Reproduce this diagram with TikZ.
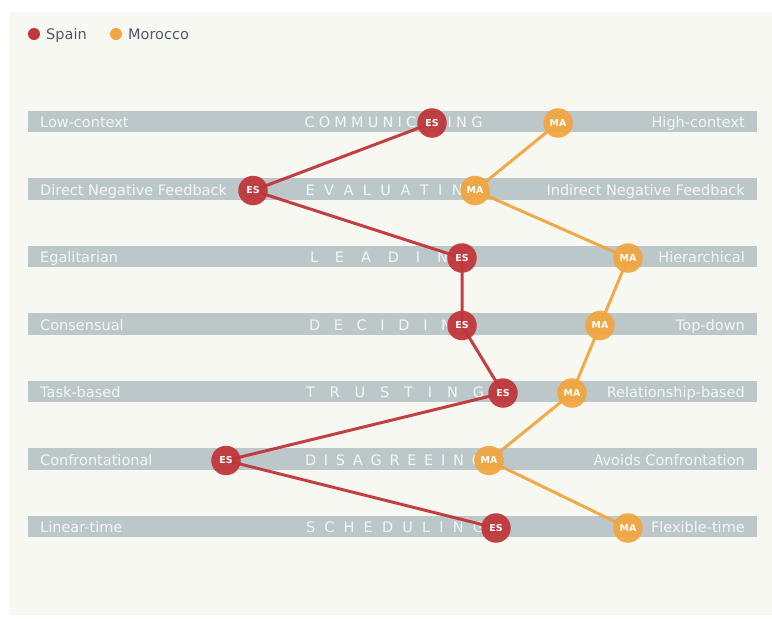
\documentclass[tikz,border=0pt]{standalone}
\usepackage{fontspec}
\setmainfont{DejaVu Sans}
\pgfdeclarelayer{bglayer}
\pgfdeclarelayer{linelayer}
\pgfsetlayers{bglayer,linelayer,main}
\definecolor{bgc}{HTML}{F8F8F3}
\definecolor{barc}{HTML}{BCC7C9}
\definecolor{bartext}{HTML}{F4F6F6}
\definecolor{esred}{RGB}{192,54,58}
\definecolor{maorange}{RGB}{242,166,64}
\definecolor{legtext}{HTML}{4F5B66}
\tikzset{
  barbox/.style={fill=barc, draw=none, minimum width=729pt, minimum height=21.5pt, inner sep=0pt},
  lefttxt/.style={anchor=base west, text=bartext, inner sep=0pt, font=\fontsize{14.5}{16}\selectfont},
  righttxt/.style={anchor=base east, text=bartext, inner sep=0pt, font=\fontsize{14.5}{16}\selectfont},
  midtxt/.style={anchor=base, text=bartext, inner sep=0pt, font=\fontsize{14.5}{16}\selectfont},
  esdot/.style={circle, fill=esred, fill opacity=0.94, text opacity=1, text=white, minimum size=29.5pt, inner sep=0pt, font=\fontsize{9.5}{10}\selectfont\bfseries},
  madot/.style={circle, fill=maorange, fill opacity=0.94, text opacity=1, text=white, minimum size=29.5pt, inner sep=0pt, font=\fontsize{9.5}{10}\selectfont\bfseries},
  esline/.style={draw=esred, line width=3pt, opacity=0.95},
  maline/.style={draw=maorange, line width=3pt, opacity=0.95},
  legdot/.style={circle, minimum size=12pt, inner sep=0pt},
  legtxt/.style={anchor=base west, text=legtext, inner sep=0pt, font=\fontsize{14.5}{16}\selectfont}
}
\newcommand{\spreadw}[2]{\makebox[#1][s]{#2}}
\begin{document}
\begin{tikzpicture}[x=1pt,y=-1pt]
\useasboundingbox (0,0) rectangle (772,619);
\begin{pgfonlayer}{bglayer}
\fill[white] (0,0) rectangle (772,619);
\fill[bgc] (10,12) rectangle (772,615);
\end{pgfonlayer}

% legend
\node[legdot, fill=esred] (legES) at (34,34) {};
\node[legtxt] (legESt) at (46,39.5) {Spain};
\node[legdot, fill=maorange] (legMA) at (116,34) {};
\node[legtxt] (legMAt) at (128,39.5) {Morocco};

% bars
\begin{pgfonlayer}{bglayer}
\node[barbox] (b1) at (392.5,121.5) {};
\node[barbox] (b2) at (392.5,189) {};
\node[barbox] (b3) at (392.5,256.5) {};
\node[barbox] (b4) at (392.5,324) {};
\node[barbox] (b5) at (392.5,391.5) {};
\node[barbox] (b6) at (392.5,459) {};
\node[barbox] (b7) at (392.5,526.5) {};

\node[lefttxt] (l1) at (40,127.5) {Low-context};
\node[lefttxt] (l2) at (40,195) {Direct Negative Feedback};
\node[lefttxt] (l3) at (40,262.5) {Egalitarian};
\node[lefttxt] (l4) at (40,330) {Consensual};
\node[lefttxt] (l5) at (40,397.5) {Task-based};
\node[lefttxt] (l6) at (40,465) {Confrontational};
\node[lefttxt] (l7) at (40,532.5) {Linear-time};

\node[righttxt] (r1) at (745,127.5) {High-context};
\node[righttxt] (r2) at (745,195) {Indirect Negative Feedback};
\node[righttxt] (r3) at (745,262.5) {Hierarchical};
\node[righttxt] (r4) at (745,330) {Top-down};
\node[righttxt] (r5) at (745,397.5) {Relationship-based};
\node[righttxt] (r6) at (745,465) {Avoids Confrontation};
\node[righttxt] (r7) at (745,532.5) {Flexible-time};

\node[midtxt] (m1) at (393.5,127.5) {\spreadw{178pt}{C\hfill O\hfill M\hfill M\hfill U\hfill N\hfill I\hfill C\hfill A\hfill T\hfill I\hfill N\hfill G}};
\node[midtxt] (m2) at (394.5,195) {\spreadw{178pt}{E\hfill V\hfill A\hfill L\hfill U\hfill A\hfill T\hfill I\hfill N\hfill G}};
\node[midtxt] (m3) at (393,262.5) {\spreadw{166pt}{L\hfill E\hfill A\hfill D\hfill I\hfill N\hfill G}};
\node[midtxt] (m4) at (393,330) {\spreadw{168pt}{D\hfill E\hfill C\hfill I\hfill D\hfill I\hfill N\hfill G}};
\node[midtxt] (m5) at (395,397.5) {\spreadw{178pt}{T\hfill R\hfill U\hfill S\hfill T\hfill I\hfill N\hfill G}};
\node[midtxt] (m6) at (394,465) {\spreadw{178pt}{D\hfill I\hfill S\hfill A\hfill G\hfill R\hfill E\hfill E\hfill I\hfill N\hfill G}};
\node[midtxt] (m7) at (395,532.5) {\spreadw{178pt}{S\hfill C\hfill H\hfill E\hfill D\hfill U\hfill L\hfill I\hfill N\hfill G}};
\end{pgfonlayer}

% dots
\node[esdot] (es1) at (432,123) {ES};
\node[esdot] (es2) at (253,190.5) {ES};
\node[esdot] (es3) at (462,258) {ES};
\node[esdot] (es4) at (462,325.5) {ES};
\node[esdot] (es5) at (503,393) {ES};
\node[esdot] (es6) at (226,460.5) {ES};
\node[esdot] (es7) at (496,528) {ES};

\node[madot] (ma1) at (558,123) {MA};
\node[madot] (ma2) at (475,190.5) {MA};
\node[madot] (ma3) at (628,258) {MA};
\node[madot] (ma4) at (600,325.5) {MA};
\node[madot] (ma5) at (572,393) {MA};
\node[madot] (ma6) at (489,460.5) {MA};
\node[madot] (ma7) at (628,528) {MA};

\begin{pgfonlayer}{linelayer}
\draw[esline] (es1.center) -- (es2.center) -- (es3.center) -- (es4.center) -- (es5.center) -- (es6.center) -- (es7.center);
\draw[maline] (ma1.center) -- (ma2.center) -- (ma3.center) -- (ma4.center) -- (ma5.center) -- (ma6.center) -- (ma7.center);
\end{pgfonlayer}
\end{tikzpicture}
\end{document}
